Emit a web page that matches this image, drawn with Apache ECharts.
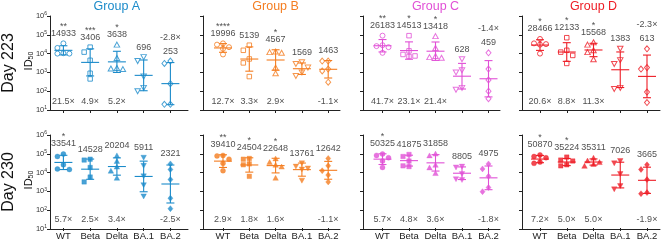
<!DOCTYPE html>
<html><head><meta charset="utf-8">
<script src="https://cdn.jsdelivr.net/npm/echarts@6/dist/echarts.min.js"></script>
<style>html,body{margin:0;padding:0;background:#fff}#c{width:665px;height:241px}</style>
</head><body><div id="c"></div>
<script>
// ---------------- DATA ----------------
const categories = ['WT', 'Beta', 'Delta', 'BA.1', 'BA.2'];
const groups = ['Group A', 'Group B', 'Group C', 'Group D'];
const days = ['Day 223', 'Day 230'];
const yTicks = [10, 100, 1000, 10000, 100000, 1000000];

// individual ID50 values per category (5 animals each)
const d223_A = [[35000,20000,10000,10500,10000],[22000,12000,4400,900,450],[30000,5800,1600,1500,1700],[6500,4000,600,100,150],[4000,3000,250,20,20]];
const d223_B = [[35000,30000,22000,18000,9000],[28000,15000,5200,3200,600],[12000,13000,11000,1800,900],[3500,2800,1800,1000,650],[4000,4000,1500,1200,300]];
const d223_C = [[90000,25000,28000,22000,11000],[90000,14000,9000,7000,7500],[85000,20000,7500,6500,6000],[5000,1300,1000,120,150],[11000,1500,400,100,40]];
const d223_D = [[60000,32000,30000,35000,10000],[70000,15000,12000,8000,3000],[40000,30000,15000,12000,5000],[18000,4500,2800,130,150],[18000,1800,1500,90,25]];
const d230_A = [[95000,70000,25000,15000,14000],[50000,45000,18000,5500,3000],[80000,40000,20000,12000,5000],[60000,22000,6000,2000,500],[28000,14000,4000,400,110]];
const d230_B = [[80000,75000,50000,30000,12000],[55000,50000,28000,25000,6000],[55000,35000,25000,20000,5000],[30000,20000,16000,14000,3500],[55000,22000,12000,7000,3000]];
const d230_C = [[95000,80000,60000,40000,18000],[90000,70000,40000,22000,20000],[100000,80000,25000,18000,9000],[20000,18000,8000,4200,3800],[28000,15000,6000,1500,900]];
const d230_D = [[85000,70000,60000,35000,30000],[65000,45000,40000,25000,22000],[60000,42000,35000,28000,22000],[40000,30000,8000,1800,1200],[25000,14000,4000,800,700]];

// geometric mean titres (labels & mean lines)
const gmt223_A = [14933, 3406, 3638, 696, 253];
const gmt223_B = [19996, 5139, 4567, 1569, 1463];
const gmt223_C = [26183, 14513, 13418, 628, 459];
const gmt223_D = [28466, 12133, 15568, 1383, 613];
const gmt230_A = [33541, 14528, 20204, 5911, 2321];
const gmt230_B = [39410, 24504, 22648, 13761, 12642];
const gmt230_C = [50325, 41875, 31858, 8805, 4975];
const gmt230_D = [50870, 35224, 35311, 7026, 3665];

// significance stars
const stars223_A = ['**', '***', '*', '', ''];
const stars223_B = ['****', '', '*', '', ''];
const stars223_C = ['**', '*', '*', '', ''];
const stars223_D = ['*', '*', '*', '', ''];
const stars230_A = ['*', '', '', '', ''];
const stars230_B = ['**', '*', '*', '', ''];
const stars230_C = ['*', '', '', '', ''];
const stars230_D = ['*', '*', '', '', ''];

// fold-change labels
const fold223_A = ['21.5×', '4.9×', '5.2×', '', '-2.8×'];
const fold223_B = ['12.7×', '3.3×', '2.9×', '', '-1.1×'];
const fold223_C = ['41.7×', '23.1×', '21.4×', '', '-1.4×'];
const fold223_D = ['20.6×', '8.8×', '11.3×', '', '-2.3×'];
const fold230_A = ['5.7×', '2.5×', '3.4×', '', '-2.5×'];
const fold230_B = ['2.9×', '1.8×', '1.6×', '', '-1.1×'];
const fold230_C = ['5.7×', '4.8×', '3.6×', '', '-1.8×'];
const fold230_D = ['7.2×', '5.0×', '5.0×', '', '-1.9×'];
// where each fold label sits: 'below' (bottom of panel) or 'above' (over the GMT label)
const foldPos223_A = ['below','below','below','','above'];
const foldPos223_B = ['below','below','below','','below'];
const foldPos223_C = ['below','below','below','','above'];
const foldPos223_D = ['below','below','below','','above'];
const foldPos230_A = ['below','below','below','','below'];
const foldPos230_B = ['below','below','below','','below'];
const foldPos230_C = ['below','below','below','','below'];
const foldPos230_D = ['below','below','below','','below'];

// ---------------- STYLE / LAYOUT ----------------
const colors = ['#1b8bca', '#f47d20', '#e150d6', '#ee1c25'];
const symbols = ['circle', 'rect', 'triangle', 'triangle', 'diamond'];
const symRot = [0, 0, 0, 180, 0];
const symSize = [[5, 5], [4.5, 4.5], [5.5, 5], [5.5, 5], [5, 6]];
const rowTop = [16, 135];
const plotH = 94;
const axisX = [50, 203, 363, 522];
const firstX = [63.4, 223, 382.5, 540];
const step = [26.75, 26.3, 26.5, 26.75];
const frameRight = [188, 340, 500, 660];
const FONT = 'Liberation Sans, Arial, sans-serif';
const txtColor = '#222';

const panels = [
  [[d223_A,gmt223_A,stars223_A,fold223_A,foldPos223_A],[d223_B,gmt223_B,stars223_B,fold223_B,foldPos223_B],
   [d223_C,gmt223_C,stars223_C,fold223_C,foldPos223_C],[d223_D,gmt223_D,stars223_D,fold223_D,foldPos223_D]],
  [[d230_A,gmt230_A,stars230_A,fold230_A,foldPos230_A],[d230_B,gmt230_B,stars230_B,fold230_B,foldPos230_B],
   [d230_C,gmt230_C,stars230_C,fold230_C,foldPos230_C],[d230_D,gmt230_D,stars230_D,fold230_D,foldPos230_D]]
];

function swarm(vals) {
  const ppd = plotH / 5;
  const order = vals.map((v, k) => k).sort((a, b) => vals[b] - vals[a]);
  const placed = [];
  const off = vals.map(() => 0);
  const cands = [0, -6, 6, -3, 3, -9, 9];
  order.forEach(k => {
    const y = Math.log10(vals[k]) * ppd;
    for (const dx of cands) {
      if (placed.every(p => Math.hypot(p.x - dx, p.y - y) >= 5.5)) { off[k] = dx; placed.push({x: dx, y}); break; }
    }
  });
  return off;
}
function logSD(vals) {
  const l = vals.map(Math.log10);
  const m = l.reduce((a, b) => a + b, 0) / l.length;
  return Math.sqrt(l.reduce((a, b) => a + (b - m) * (b - m), 0) / (l.length - 1));
}

const grid = [], xAxis = [], yAxis = [], series = [];
for (let r = 0; r < 2; r++) {
  for (let g = 0; g < 4; g++) {
    const [pts, gmt, stars, fold, fpos] = panels[r][g];
    const col = colors[g];
    const fi = grid.length;
    // frame grid (axis lines + y labels)
    grid.push({left: axisX[g], top: rowTop[r], width: frameRight[g] - axisX[g], height: plotH});
    xAxis.push({gridIndex: fi, type: 'value', min: 0, max: 1, axisLine: {show: true, lineStyle: {color: txtColor, width: 1}},
      axisTick: {show: false}, axisLabel: {show: false}, splitLine: {show: false}});
    yAxis.push({gridIndex: fi, type: 'log', logBase: 10, min: 10, max: 1000000, splitNumber: 5,
      axisLine: {show: true, lineStyle: {color: txtColor, width: 1}},
      axisTick: {show: true, length: 3, lineStyle: {color: txtColor}},
      splitLine: {show: false},
      axisLabel: {show: g === 0, margin: 3,
        formatter: v => '{b|10}{s|' + Math.round(Math.log10(v)) + '}',
        rich: {b: {fontSize: 7.5, fontFamily: FONT, color: '#333'}, s: {fontSize: 5, fontFamily: FONT, color: '#333', verticalAlign: 'top', padding: [0, 0, 4, 0]}}}});
    // data grid
    const di = grid.length;
    grid.push({left: firstX[g] - step[g] / 2, top: rowTop[r], width: step[g] * 5, height: plotH});
    xAxis.push({gridIndex: di, type: 'category', data: categories, boundaryGap: true,
      axisLine: {show: false}, axisTick: {show: true, alignWithLabel: true, length: 3, lineStyle: {color: txtColor}},
      axisLabel: {show: r === 1, fontSize: 9.5, fontFamily: FONT, color: txtColor, margin: 3, interval: 0},
      splitLine: {show: false}});
    yAxis.push({gridIndex: di, type: 'log', logBase: 10, min: 10, max: 1000000, show: false});

    // points
    const pdata = [];
    pts.forEach((vals, i) => {
      const off = swarm(vals);
      vals.forEach((v, k) => pdata.push({value: [i, v], symbol: symbols[i], symbolRotate: symRot[i],
        symbolSize: symSize[i], symbolOffset: [off[k], 0]}));
    });
    series.push({type: 'scatter', xAxisIndex: di, yAxisIndex: di, data: pdata, silent: true, z: 3,
      itemStyle: r === 0 ? {color: 'rgba(255,255,255,0)', borderColor: col, borderWidth: 1} : {color: col, borderColor: col, borderWidth: 0.4}});

    // mean & error bars
    const edata = gmt.map((m, i) => {
      const sd = logSD(pts[i]);
      const lo = Math.max(10, Math.pow(10, Math.log10(m) - sd));
      const hi = Math.pow(10, Math.log10(m) + sd);
      return [i, m, lo, hi];
    });
    series.push({type: 'custom', xAxisIndex: di, yAxisIndex: di, data: edata, silent: true, z: 4,
      encode: {x: 0, y: [1, 2, 3]},
      renderItem: (params, api) => {
        const i = api.value(0);
        const m = api.coord([i, api.value(1)]);
        const lo = api.coord([i, api.value(2)]);
        const hi = api.coord([i, api.value(3)]);
        const st = {stroke: col, lineWidth: 1.1};
        return {type: 'group', children: [
          {type: 'line', shape: {x1: m[0] - 9, y1: m[1], x2: m[0] + 9, y2: m[1]}, style: st},
          {type: 'line', shape: {x1: lo[0], y1: lo[1], x2: hi[0], y2: hi[1]}, style: st},
          {type: 'line', shape: {x1: lo[0] - 4, y1: lo[1], x2: lo[0] + 4, y2: lo[1]}, style: st},
          {type: 'line', shape: {x1: hi[0] - 4, y1: hi[1], x2: hi[0] + 4, y2: hi[1]}, style: st}
        ]};
      }});

    // label anchors = top of data/error bar
    const anchors = gmt.map((m, i) => Math.max(Math.max(...pts[i]), edata[i][3]));
    const lbl = (text, dist) => ({show: true, position: 'top', distance: dist, formatter: text,
      fontSize: 9, fontFamily: FONT, color: txtColor});
    const hidden = {color: 'rgba(0,0,0,0)'};
    series.push({type: 'scatter', xAxisIndex: di, yAxisIndex: di, silent: true, symbolSize: 1, itemStyle: hidden, z: 5,
      data: gmt.map((m, i) => ({value: [i, anchors[i]], label: lbl(String(m), 5)}))});
    series.push({type: 'scatter', xAxisIndex: di, yAxisIndex: di, silent: true, symbolSize: 1, itemStyle: hidden, z: 5,
      data: stars.map((s, i) => ({value: [i, anchors[i]], label: lbl(s, 12)})).filter((d, i) => stars[i])});
    series.push({type: 'scatter', xAxisIndex: di, yAxisIndex: di, silent: true, symbolSize: 1, itemStyle: hidden, z: 5,
      data: fold.map((f, i) => ({value: [i, fpos[i] === 'above' ? anchors[i] : 10],
        label: lbl(f, fpos[i] === 'above' ? 19 : 3)})).filter((d, i) => fold[i])});
  }
}

const graphic = [];
groups.forEach((t, g) => graphic.push({type: 'text', x: firstX[g] + 2 * step[g], y: 7,
  style: {text: t, fill: colors[g], font: '12.5px ' + FONT, textAlign: 'center', textVerticalAlign: 'middle'}}));
days.forEach((t, r) => {
  graphic.push({type: 'text', x: 9, y: rowTop[r] + 47, rotation: Math.PI / 2,
    style: {text: t, fill: '#111', font: '16px ' + FONT, textAlign: 'center', textVerticalAlign: 'middle'}});
  graphic.push({type: 'text', x: 29, y: rowTop[r] + 45, rotation: Math.PI / 2,
    style: {text: '{a|ID}{b|50}', textAlign: 'center', textVerticalAlign: 'middle',
      rich: {a: {fontSize: 11, fontFamily: FONT, fill: '#111', color: '#111'},
             b: {fontSize: 7, fontFamily: FONT, fill: '#111', color: '#111', verticalAlign: 'bottom', padding: [4, 0, 0, 0]}}}});
});

const chart = echarts.init(document.getElementById('c'), null, {renderer: 'canvas'});
chart.setOption({animation: false, backgroundColor: '#fff', grid, xAxis, yAxis, series, graphic});
</script></body></html>
